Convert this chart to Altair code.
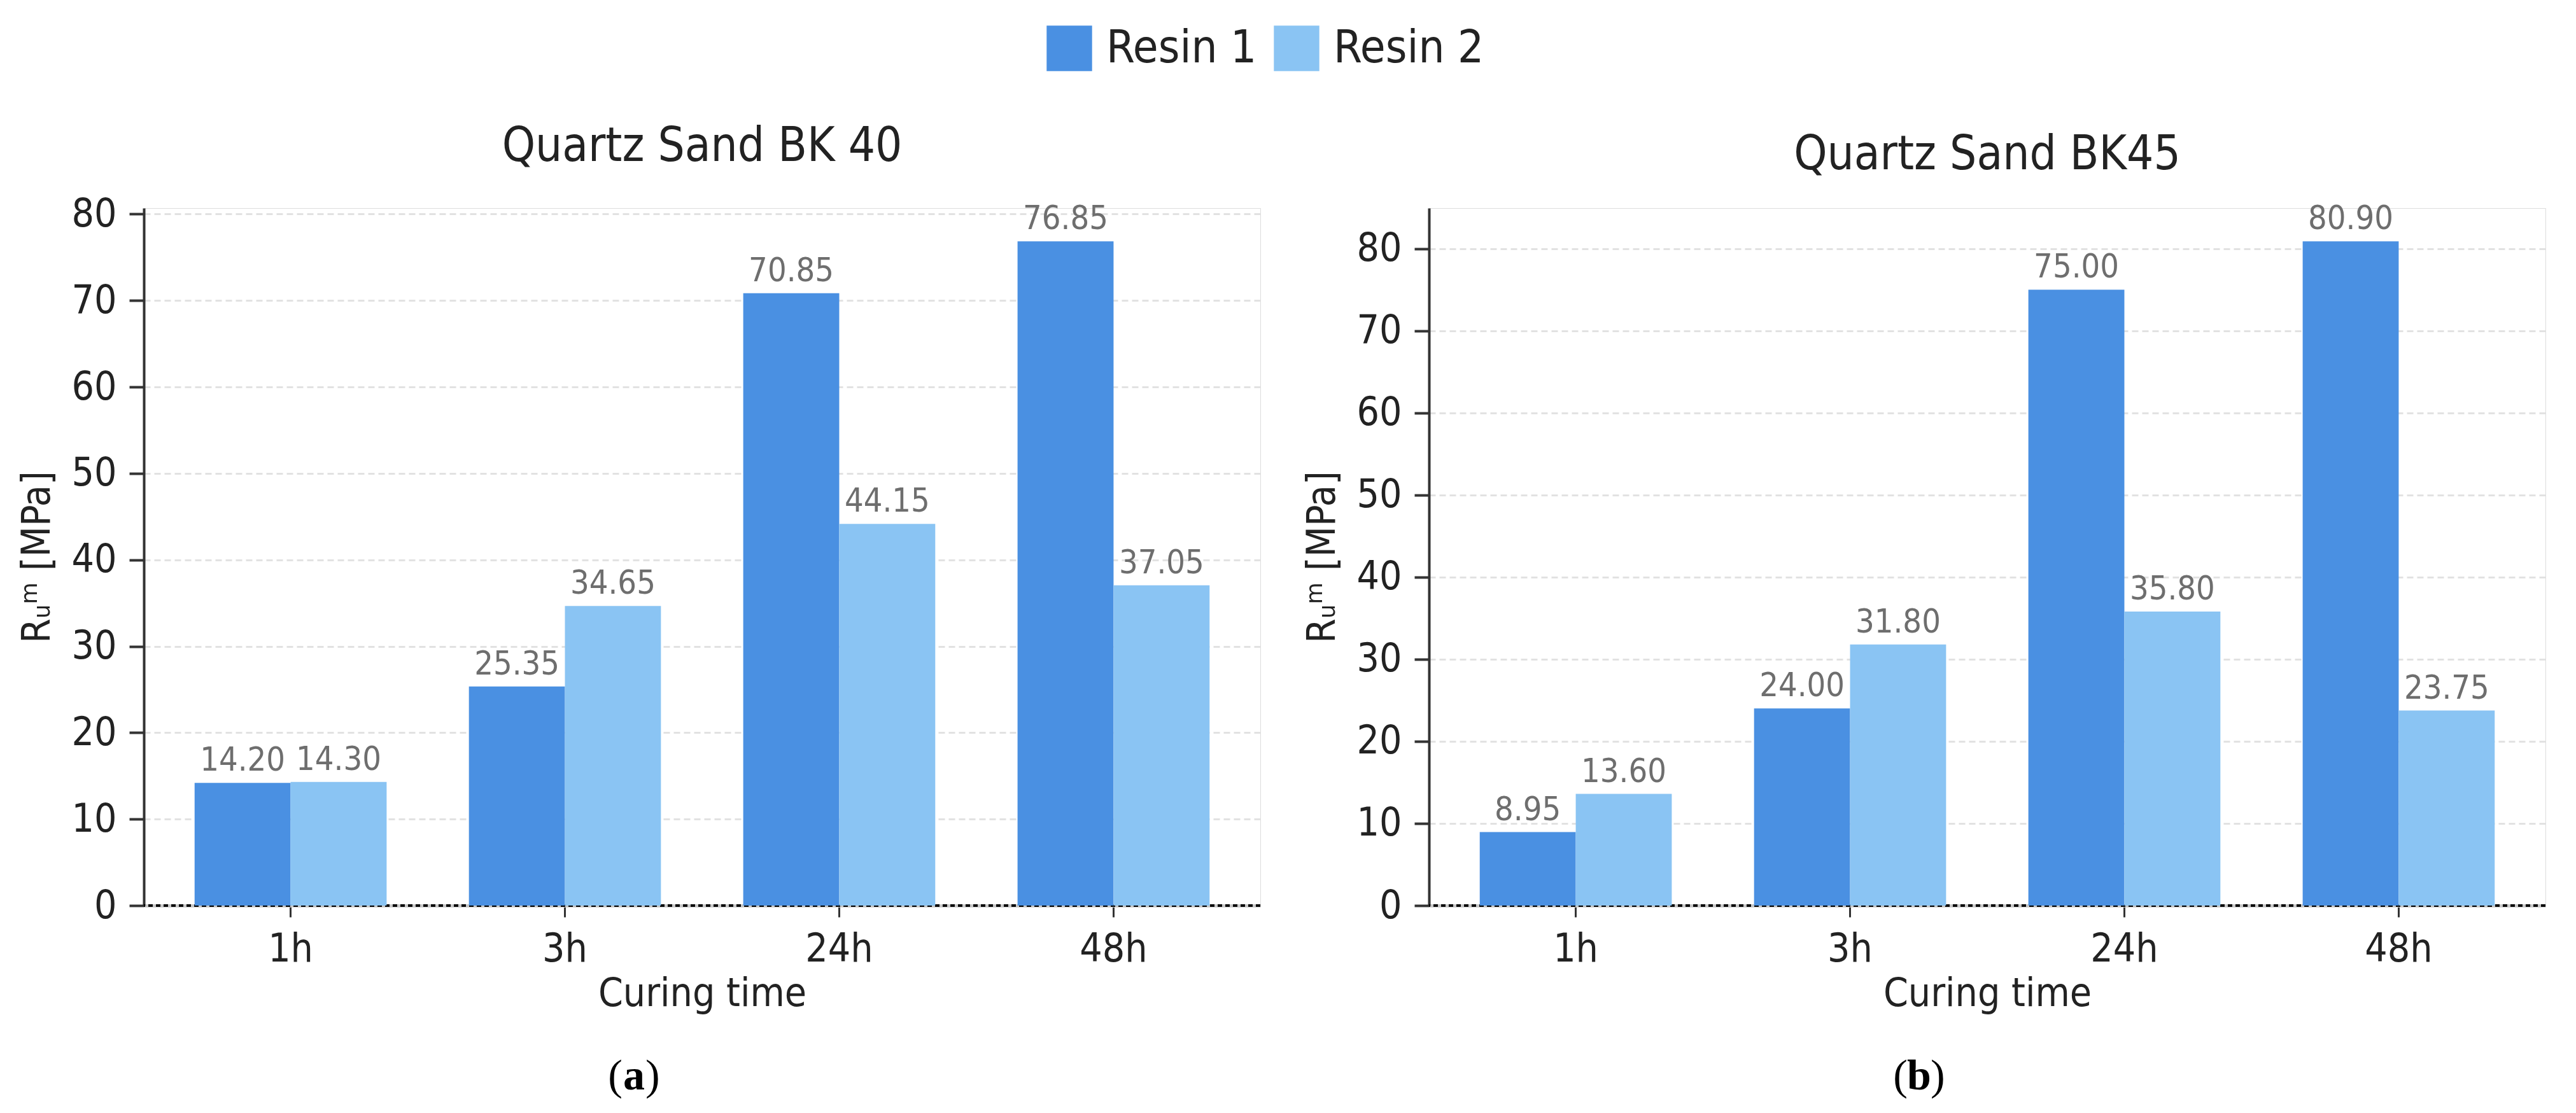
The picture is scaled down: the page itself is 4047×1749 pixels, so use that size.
import altair as alt
import pandas as pd

times = ["1h", "3h", "24h", "48h"]
resins = ["Resin 1", "Resin 2"]
bk40_resin1 = [14.20, 25.35, 70.85, 76.85]
bk40_resin2 = [14.30, 34.65, 44.15, 37.05]
bk45_resin1 = [8.95, 24.00, 75.00, 80.90]
bk45_resin2 = [13.60, 31.80, 35.80, 23.75]
panel_titles = ["Quartz Sand BK 40", "Quartz Sand BK45"]
captions = ["a", "b"]
colors = ["#4a90e2", "#8ac4f3"]
y_ticks = [0, 10, 20, 30, 40, 50, 60, 70, 80]

FONT = "DejaVu Sans Condensed, DejaVu Sans"
SERIF = "Liberation Serif"
W, H = 1754, 1096
YTITLE = "Rᵤᵐ [MPa]"


def make_df(r1, r2):
    rows = []
    for t, a, b in zip(times, r1, r2):
        rows.append({"time": t, "resin": resins[0], "value": a})
        rows.append({"time": t, "resin": resins[1], "value": b})
    return pd.DataFrame(rows)


def panel(r1, r2, title, caption):
    df = make_df(r1, r2)
    ymax = max(r1 + r2) * 1.05
    yscale = alt.Scale(domain=[0, ymax], nice=False, zero=True)
    x = alt.X(
        "time:N", sort=times, title="Curing time",
        scale=alt.Scale(paddingInner=0.3, paddingOuter=0.185),
        axis=alt.Axis(labelAngle=0, labelFontSize=62, labelFont=FONT, labelColor="#222",
                      tickSize=18, tickWidth=3, tickColor="#333",
                      domainColor="#c8c8c8", domainWidth=5, labelPadding=20,
                      titleFontSize=62, titleFont=FONT, titleFontWeight="normal",
                      titleColor="#222", titlePadding=9, grid=False),
    )
    y = alt.Y(
        "value:Q", title=YTITLE, scale=yscale,
        axis=alt.Axis(values=y_ticks, labelFontSize=62, labelFont=FONT, labelColor="#222",
                      tickSize=23, tickWidth=4, tickColor="#333",
                      domainColor="#333", domainWidth=4, labelPadding=20,
                      titleFontSize=62, titleFont=FONT, titleFontWeight="normal",
                      titleColor="#222", titleAngle=270, titleX=-168, titleY=H / 2,
                      titleBaseline="middle", titleAlign="center",
                      grid=True, gridColor="#e2e2e2", gridDash=[10, 6], gridWidth=3),
    )
    color = alt.Color(
        "resin:N",
        scale=alt.Scale(domain=resins, range=colors),
        legend=alt.Legend(orient="none", legendX=1418, legendY=-287, direction="horizontal",
                          title=None, symbolType="square", symbolSize=5100,
                          symbolStrokeWidth=0, symbolOpacity=1,
                          labelFontSize=72, labelFont=FONT, labelColor="#222",
                          labelLimit=0, labelOffset=22, columnPadding=26),
    )
    base = alt.Chart(df)
    zero = alt.Chart(pd.DataFrame({"value": [0]})).mark_rule(
        color="black", strokeWidth=4, strokeDash=[7, 5]
    ).encode(y=alt.Y("value:Q", scale=yscale, title=YTITLE))
    bars = base.mark_bar(opacity=1).encode(
        x=x, y=y, color=color,
        xOffset=alt.XOffset("resin:N", sort=resins, scale=alt.Scale(paddingInner=0, paddingOuter=0)),
    )
    labels = base.mark_text(
        baseline="bottom", dy=-8, fontSize=52, font=FONT, color="#6e6e6e"
    ).encode(
        x=alt.X("time:N", sort=times),
        xOffset=alt.XOffset("resin:N", sort=resins),
        y=alt.Y("value:Q", scale=yscale, title=YTITLE),
        text=alt.Text("value:Q", format=".2f"),
    )
    cap_df = pd.DataFrame({"c": [caption]})
    cy = 1385
    cx = 770
    cap_a = alt.Chart(cap_df).mark_text(
        font=SERIF, fontSize=68, fontWeight="bold", baseline="alphabetic", align="center", color="black"
    ).encode(x=alt.value(cx), y=alt.value(cy), text="c:N")
    cap_l = alt.Chart(cap_df).mark_text(
        font=SERIF, fontSize=68, baseline="alphabetic", align="right", color="black"
    ).encode(x=alt.value(cx - 18), y=alt.value(cy), text=alt.value("("))
    cap_r = alt.Chart(cap_df).mark_text(
        font=SERIF, fontSize=68, baseline="alphabetic", align="left", color="black"
    ).encode(x=alt.value(cx + 18), y=alt.value(cy), text=alt.value(")"))
    return alt.layer(zero, bars, labels, cap_a, cap_l, cap_r).properties(
        width=W, height=H,
        title=alt.TitleParams(title, fontSize=74, font=FONT, fontWeight="normal",
                              color="#222", offset=36, anchor="middle"),
    )


left = panel(bk40_resin1, bk40_resin2, panel_titles[0], captions[0])
right = panel(bk45_resin1, bk45_resin2, panel_titles[1], captions[1])

chart = alt.hconcat(left, right, spacing=62).properties(
    padding={"left": 18, "top": 32, "right": 5, "bottom": 5}
).configure_view(strokeWidth=0, stroke="transparent").configure(background="white")

chart.save("out.html", embed_options={"renderer": "svg", "actions": False})
